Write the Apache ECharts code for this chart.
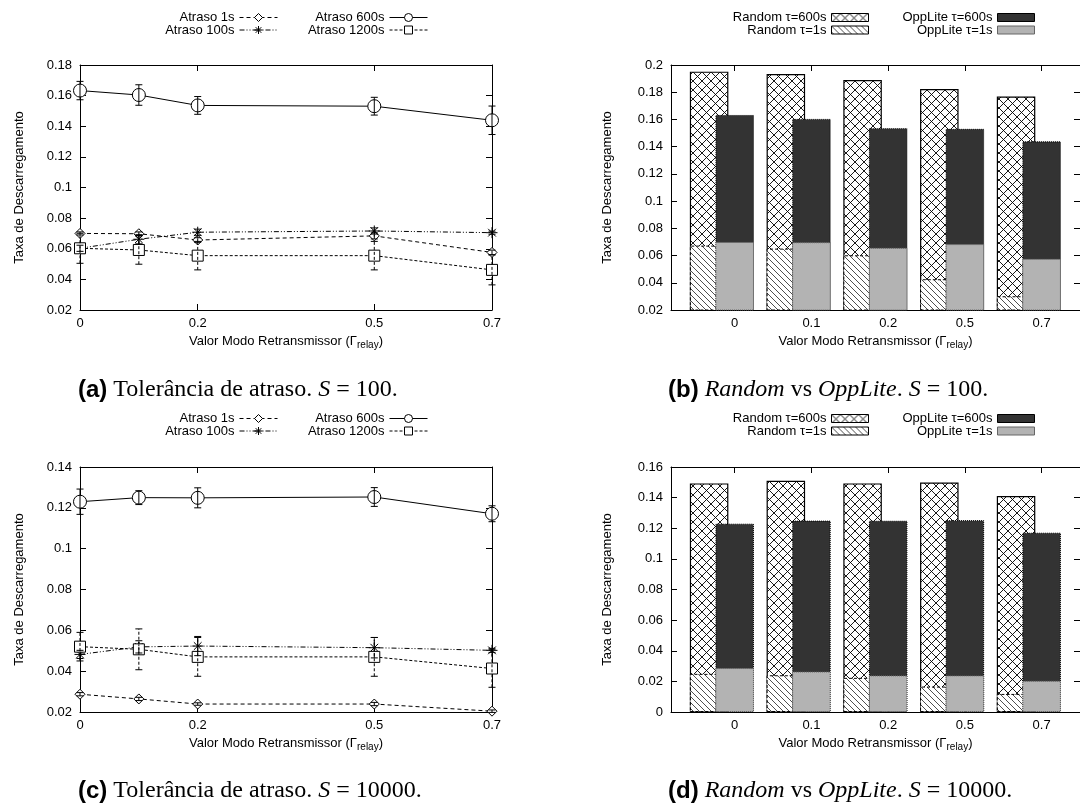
<!DOCTYPE html>
<html><head><meta charset="utf-8">
<script src="https://cdn.jsdelivr.net/npm/echarts@6/dist/echarts.min.js"></script>
<style>html,body{margin:0;padding:0;background:#fff}#c{width:1080px;height:803px}</style>
</head><body><div id="c"></div>
<script>
// ---------- DATA ----------
const xValues = [0, 0.1, 0.2, 0.5, 0.7];
const lineTickValues = [0, 0.2, 0.5, 0.7];
const barCategories = ['0', '0.1', '0.2', '0.5', '0.7'];

// S = 100 (delay tolerance, OppLite)
const atraso1s_S100    = [0.0700, 0.0698, 0.0657, 0.0684, 0.0576];
const atraso100s_S100  = [0.0603, 0.0662, 0.0708, 0.0716, 0.0705];
const atraso600s_S100  = [0.1633, 0.1604, 0.1536, 0.1531, 0.1439];
const atraso1200s_S100 = [0.0603, 0.0592, 0.0555, 0.0555, 0.0462];
const err1s_S100    = [0.0010, 0.0012, 0.0015, 0.0020, 0.0015];
const err100s_S100  = [0.0020, 0.0030, 0.0020, 0.0020, 0.0010];
const err600s_S100  = [0.0060, 0.0067, 0.0058, 0.0058, 0.0093];
const err1200s_S100 = [0.0098, 0.0093, 0.0093, 0.0093, 0.0098];

// S = 10000
const atraso1s_S10000    = [0.0287, 0.0264, 0.0239, 0.0239, 0.0204];
const atraso100s_S10000  = [0.0482, 0.0519, 0.0523, 0.0515, 0.0502];
const atraso600s_S10000  = [0.1230, 0.1250, 0.1249, 0.1253, 0.1171];
const atraso1200s_S10000 = [0.0520, 0.0507, 0.0470, 0.0470, 0.0413];
const err1s_S10000    = [0.0008, 0.0008, 0.0006, 0.0008, 0.0006];
const err100s_S10000  = [0.0020, 0.0030, 0.0047, 0.0050, 0.0010];
const err600s_S10000  = [0.0062, 0.0034, 0.0049, 0.0046, 0.0039];
const err1200s_S10000 = [0.0070, 0.0100, 0.0095, 0.0095, 0.0092];

// Random vs OppLite
const random600_S100   = [0.1951, 0.1934, 0.1890, 0.1823, 0.1769];
const random1_S100     = [0.0673, 0.0651, 0.0602, 0.0426, 0.0301];
const random600_S10000 = [0.1493, 0.1510, 0.1493, 0.1499, 0.1410];
const random1_S10000   = [0.0249, 0.0240, 0.0223, 0.0166, 0.0118];

// ---------- STYLE ----------
const SANS = 'Liberation Sans', SERIF = 'Liberation Serif';
const W = 1080;
const randomOffset = -1 / 3;

function makeCross() {
  const c = document.createElement('canvas'); c.width = 9; c.height = 9;
  const g = c.getContext('2d');
  g.fillStyle = '#fff'; g.fillRect(0, 0, 9, 9);
  g.strokeStyle = '#000'; g.lineWidth = 0.9;
  g.beginPath(); g.moveTo(-1, -1); g.lineTo(10, 10); g.moveTo(10, -1); g.lineTo(-1, 10); g.stroke();
  return c;
}
function makeHatch() {
  const c = document.createElement('canvas'); c.width = 6; c.height = 6;
  const g = c.getContext('2d');
  g.fillStyle = '#fff'; g.fillRect(0, 0, 6, 6);
  g.strokeStyle = '#222'; g.lineWidth = 0.8;
  g.beginPath(); g.moveTo(-1, -1); g.lineTo(7, 7); g.moveTo(5, -1); g.lineTo(7, 1); g.moveTo(-1, 5); g.lineTo(1, 7); g.stroke();
  return c;
}
const crossPat = { image: makeCross(), repeat: 'repeat' };
const hatchPat = { image: makeHatch(), repeat: 'repeat' };

const grids = [
  { left: 80,  top: 65,  width: 412,   height: 245 },
  { left: 671, top: 65,  width: 412.5, height: 245 },
  { left: 80,  top: 467, width: 412,   height: 245 },
  { left: 671, top: 467, width: 412.5, height: 245 }
];

const labelStyle = { fontFamily: SANS, fontSize: 13, color: '#000' };
const tickStyle = { show: true, inside: true, length: 6, lineStyle: { color: '#000', width: 1 } };
const lineAx = { show: true, onZero: false, lineStyle: { color: '#000', width: 1 } };
const yFmt = v => String(+v.toFixed(3));

const xAxes = [], yAxes = [], series = [];
const xName = 'Valor Modo Retransmissor (Γ{s|relay})';
const xNameStyle = { fontFamily: SANS, fontSize: 13, color: '#000', rich: { s: { fontFamily: SANS, fontSize: 10, padding: [8, 0, 0, 0] } } };

function addYAxes(gi, min, max, nameGap) {
  const left = yAxes.length;
  yAxes.push({ gridIndex: gi, type: 'value', position: 'left', min, max, interval: 0.02,
    axisLine: lineAx, axisTick: tickStyle, splitLine: { show: false },
    axisLabel: Object.assign({ margin: 8, formatter: yFmt }, labelStyle),
    name: 'Taxa de Descarregamento', nameLocation: 'middle', nameGap,
    nameTextStyle: { fontFamily: SANS, fontSize: 13, color: '#000' } });
  yAxes.push({ gridIndex: gi, type: 'value', position: 'right', min, max, interval: 0.02,
    axisLine: lineAx, axisTick: tickStyle, splitLine: { show: false }, axisLabel: { show: false } });
  return left;
}

function errRender(dash) {
  return function (params, api) {
    const x = api.value(0), lo = api.value(1), hi = api.value(2);
    const p1 = api.coord([x, lo]), p2 = api.coord([x, hi]);
    const w = 3.5;
    const st = { stroke: '#000', lineWidth: 1, lineDash: dash };
    const cap = { stroke: '#000', lineWidth: 1 };
    return { type: 'group', children: [
      { type: 'line', shape: { x1: p1[0], y1: p1[1], x2: p2[0], y2: p2[1] }, style: st },
      { type: 'line', shape: { x1: p1[0] - w, y1: p1[1], x2: p1[0] + w, y2: p1[1] }, style: cap },
      { type: 'line', shape: { x1: p2[0] - w, y1: p2[1], x2: p2[0] + w, y2: p2[1] }, style: cap }
    ] };
  };
}

const asterisk = 'path://M5 0 L5 10 M0 5 L10 5 M1.5 1.5 L8.5 8.5 M8.5 1.5 L1.5 8.5';
const lineDefs = [
  { name: 'Atraso 1s',    symbol: 'diamond', size: 10, dash: [4, 3], fill: '#fff' },
  { name: 'Atraso 100s',  symbol: asterisk,  size: 11, dash: [5, 2, 1, 2, 1, 2], fill: '#000' },
  { name: 'Atraso 600s',  symbol: 'circle',  size: 13, dash: null, fill: '#fff' },
  { name: 'Atraso 1200s', symbol: 'rect',    size: 11, dash: [3, 2], fill: '#fff' }
];

function addLineChart(gi, ymin, ymax, vals, errs) {
  const xi = xAxes.length;
  xAxes.push({ gridIndex: gi, type: 'value', position: 'bottom', min: 0, max: 0.7,
    axisLine: lineAx, splitLine: { show: false },
    axisTick: Object.assign({ customValues: lineTickValues }, tickStyle),
    axisLabel: Object.assign({ margin: 7, customValues: lineTickValues, showMinLabel: true, showMaxLabel: true,
      formatter: v => String(+v.toFixed(2)) }, labelStyle),
    name: xName, nameLocation: 'middle', nameGap: 22, nameTextStyle: xNameStyle });
  xAxes.push({ gridIndex: gi, type: 'value', position: 'top', min: 0, max: 0.7,
    axisLine: lineAx, splitLine: { show: false },
    axisTick: Object.assign({ customValues: lineTickValues }, tickStyle), axisLabel: { show: false } });
  const yi = addYAxes(gi, ymin, ymax, 54);
  lineDefs.forEach((d, k) => {
    series.push({ type: 'line', name: d.name, xAxisIndex: xi, yAxisIndex: yi,
      data: xValues.map((x, i) => [x, vals[k][i]]),
      symbol: d.symbol, symbolSize: d.size, showAllSymbol: true,
      lineStyle: { color: '#000', width: 1, type: d.dash || 'solid' },
      itemStyle: { color: d.fill, borderColor: '#000', borderWidth: 1 }, z: 2 });
    series.push({ type: 'custom', xAxisIndex: xi, yAxisIndex: yi, silent: true, z: 3,
      data: xValues.map((x, i) => [x, vals[k][i] - errs[k][i], vals[k][i] + errs[k][i]]),
      encode: { x: 0, y: [1, 2] }, renderItem: errRender(d.dash) });
  });
}

function addBarChart(gi, ymin, ymax, r600, r1, o600, o1) {
  const catIdx = barCategories.map((c, i) => i);
  const xi = xAxes.length;
  xAxes.push({ gridIndex: gi, type: 'value', position: 'bottom', min: -0.83, max: 4.5,
    axisLine: lineAx, splitLine: { show: false },
    axisTick: Object.assign({ customValues: catIdx }, tickStyle),
    axisLabel: Object.assign({ margin: 7, customValues: catIdx, formatter: v => barCategories[Math.round(v)] }, labelStyle),
    name: xName, nameLocation: 'middle', nameGap: 22, nameTextStyle: xNameStyle });
  xAxes.push({ gridIndex: gi, type: 'value', position: 'top', min: -0.83, max: 4.5,
    axisLine: lineAx, splitLine: { show: false },
    axisTick: Object.assign({ customValues: catIdx }, tickStyle), axisLabel: { show: false } });
  const xr = xAxes.length;
  xAxes.push({ gridIndex: gi, type: 'value', min: -0.83, max: 4.5, show: false });
  const yi = addYAxes(gi, ymin, ymax, 57);
  const bw = 38.5;
  series.push({ type: 'bar', name: 'Random τ=600s', xAxisIndex: xr, yAxisIndex: yi, barWidth: bw, barGap: '-100%',
    data: r600.map((v, i) => [i + randomOffset, v]),
    itemStyle: { color: crossPat, borderColor: '#000', borderWidth: 1.2 } });
  series.push({ type: 'bar', name: 'Random τ=1s', xAxisIndex: xr, yAxisIndex: yi, barWidth: bw, barGap: '-100%',
    data: r1.map((v, i) => [i + randomOffset, v]),
    itemStyle: { color: hatchPat, borderColor: '#000', borderWidth: 1, borderType: [3, 2] } });
  series.push({ type: 'bar', name: 'OppLite τ=600s', xAxisIndex: xi, yAxisIndex: yi, barWidth: bw, barGap: '-100%',
    data: o600.map((v, i) => [i, v]),
    itemStyle: { color: '#333333', borderColor: '#000', borderWidth: 1, borderType: 'dotted' } });
  series.push({ type: 'bar', name: 'OppLite τ=1s', xAxisIndex: xi, yAxisIndex: yi, barWidth: bw, barGap: '-100%',
    data: o1.map((v, i) => [i, v]),
    itemStyle: { color: '#b3b3b3', borderColor: '#666', borderWidth: 1, borderType: 'dotted' } });
}

addLineChart(0, 0.02, 0.18,
  [atraso1s_S100, atraso100s_S100, atraso600s_S100, atraso1200s_S100],
  [err1s_S100, err100s_S100, err600s_S100, err1200s_S100]);
addBarChart(1, 0.02, 0.2, random600_S100, random1_S100, atraso600s_S100, atraso1s_S100);
addLineChart(2, 0.02, 0.14,
  [atraso1s_S10000, atraso100s_S10000, atraso600s_S10000, atraso1200s_S10000],
  [err1s_S10000, err100s_S10000, err600s_S10000, err1200s_S10000]);
addBarChart(3, 0, 0.16, random600_S10000, random1_S10000, atraso600s_S10000, atraso1s_S10000);

// ---------- LEGENDS ----------
const legends = [];
function leg(name, iconRight, cy, isBar) {
  const l = { data: [name], right: W - iconRight, top: cy - 8, align: 'right', orient: 'horizontal',
    itemWidth: isBar ? 37 : 38, itemHeight: isBar ? 8 : 10, padding: 0, selectedMode: false,
    lineStyle: { width: 1 }, itemStyle: { borderWidth: 1 },
    textStyle: { fontFamily: SANS, fontSize: 13, color: '#000' } };
  if (isBar) l.icon = 'rect';
  legends.push(l);
}
[0, 401].forEach(dy => {
  leg('Atraso 1s', 278, 19 + dy, false);
  leg('Atraso 100s', 278, 31.5 + dy, false);
  leg('Atraso 600s', 428, 19 + dy, false);
  leg('Atraso 1200s', 428, 31.5 + dy, false);
  leg('Random τ=600s', 869, 19 + dy, true);
  leg('Random τ=1s', 869, 31.5 + dy, true);
  leg('OppLite τ=600s', 1035, 19 + dy, true);
  leg('OppLite τ=1s', 1035, 31.5 + dy, true);
});

// ---------- CAPTIONS ----------
const capStyle = { fontFamily: SERIF, fontSize: 24, color: '#000', fontWeight: 'normal',
  rich: { b: { fontFamily: SANS, fontWeight: 'bold', fontSize: 24 },
          i: { fontFamily: SERIF, fontStyle: 'italic', fontSize: 24 } } };
const captions = [
  { text: '{b|(a)} Tolerância de atraso. {i|S} = 100.', left: 78, cy: 392 },
  { text: '{b|(b)} {i|Random} vs {i|OppLite}. {i|S} = 100.', left: 668, cy: 392 },
  { text: '{b|(c)} Tolerância de atraso. {i|S} = 10000.', left: 78, cy: 793 },
  { text: '{b|(d)} {i|Random} vs {i|OppLite}. {i|S} = 10000.', left: 668, cy: 793 }
];
const titles = captions.map(c => ({ text: c.text, left: c.left, top: c.cy - 14, padding: 0, textStyle: capStyle }));

const chart = echarts.init(document.getElementById('c'), null, { renderer: 'canvas' });
chart.setOption({
  animation: false,
  backgroundColor: '#fff',
  title: titles,
  legend: legends,
  grid: grids,
  xAxis: xAxes,
  yAxis: yAxes,
  series: series
});
</script></body></html>
